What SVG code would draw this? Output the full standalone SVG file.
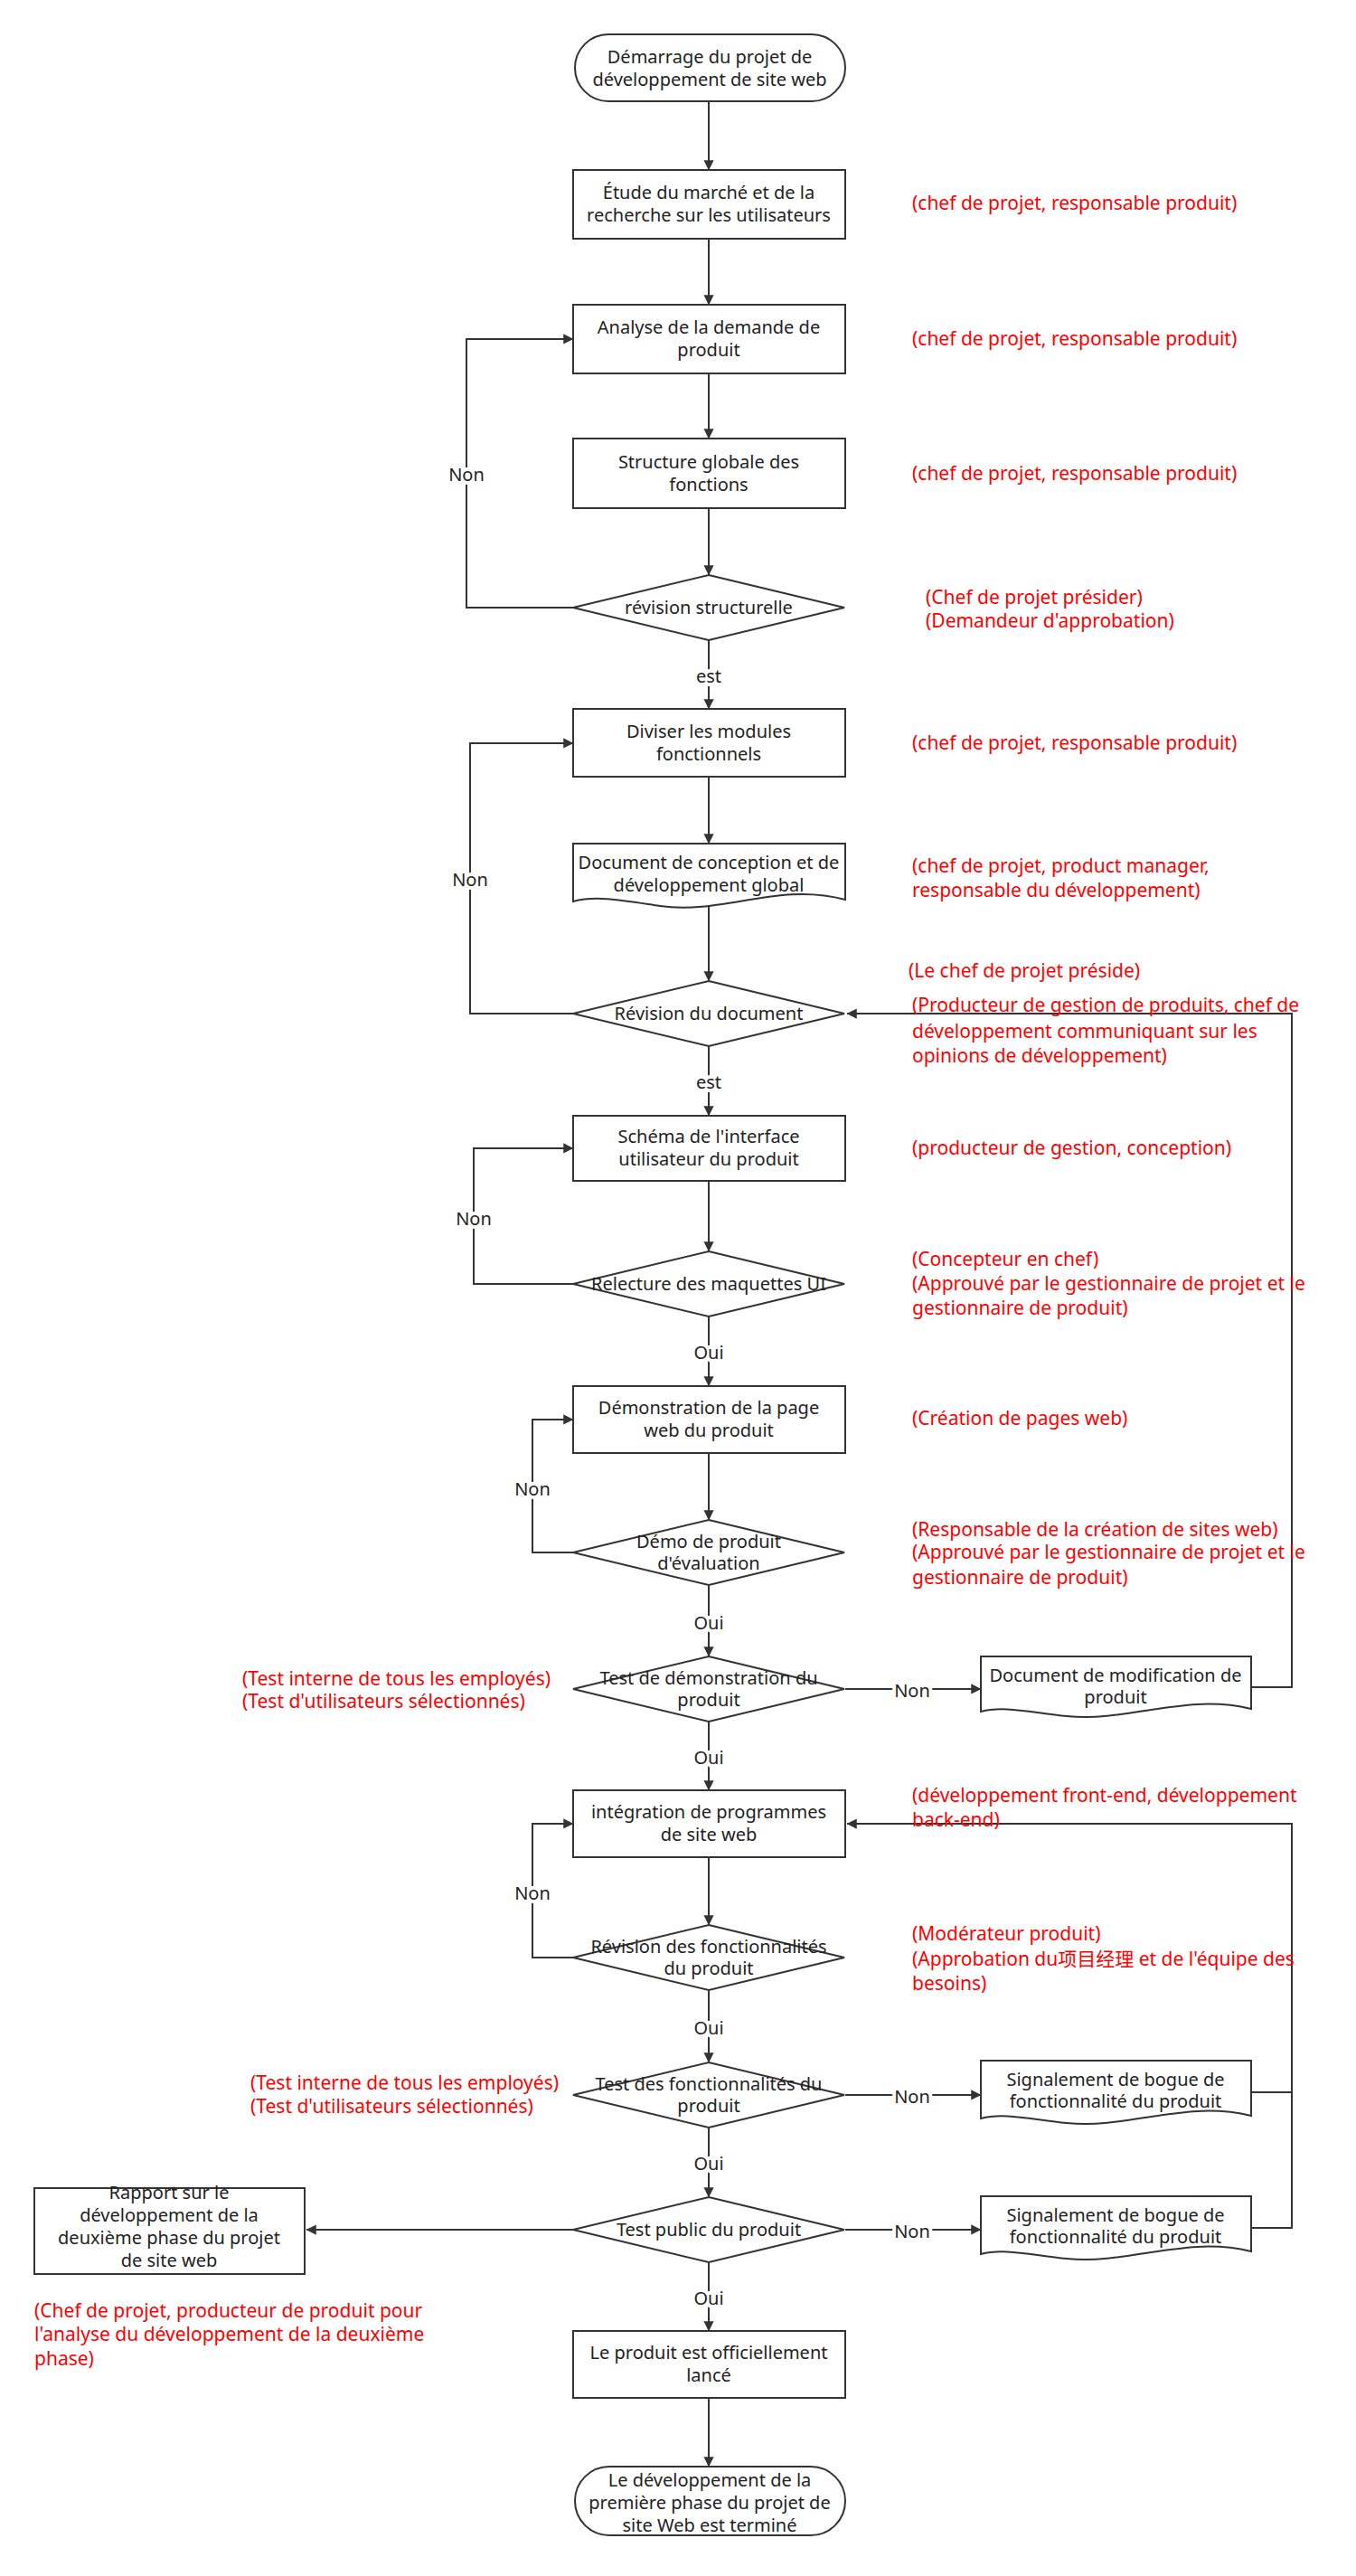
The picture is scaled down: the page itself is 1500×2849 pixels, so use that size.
<svg xmlns="http://www.w3.org/2000/svg" width="1500" height="2849" viewBox="0 0 1500 2849">
<style>
.n{fill:#fff;stroke:#333;stroke-width:2}
.t{font-family:"Noto Sans","Noto Sans CJK SC",sans-serif;font-size:20px;fill:#222;text-anchor:middle}
.r{font-family:"Noto Sans","Noto Sans CJK SC",sans-serif;font-size:21px;fill:#f00}
.c{fill:none;stroke:#333;stroke-width:2;marker-end:url(#a)}
.p{fill:none;stroke:#333;stroke-width:2}
.l{font-family:"Noto Sans",sans-serif;font-size:20px;fill:#222;text-anchor:middle;paint-order:stroke;stroke:#fff;stroke-width:8px}
</style>
<defs><marker id="a" viewBox="0 0 10 10" refX="9" refY="5" markerWidth="7" markerHeight="7" orient="auto" markerUnits="userSpaceOnUse" style="overflow:visible"><path d="M0,0L10,5L0,10z" fill="#333" transform="scale(1.6) translate(-4,-1.9)"/></marker></defs>
<rect width="1500" height="2849" fill="#fff"/>
<g id="connectors">
<path class="c" d="M784,112V188"/><path class="c" d="M784,264V337"/><path class="c" d="M784,413V485"/><path class="c" d="M784,562V636"/>
<path class="c" d="M784,708V784"/><path class="c" d="M784,859V933"/><path class="c" d="M784,1000V1085"/><path class="c" d="M784,1157V1234"/>
<path class="c" d="M784,1306V1384"/><path class="c" d="M784,1456V1533"/><path class="c" d="M784,1607V1681"/><path class="c" d="M784,1753V1832"/>
<path class="c" d="M784,1904V1980"/><path class="c" d="M784,2054V2129"/><path class="c" d="M784,2201V2281"/><path class="c" d="M784,2353V2430"/>
<path class="c" d="M784,2502V2578"/><path class="c" d="M784,2652V2728"/>
<path class="c" d="M634,672H516V375H634"/><path class="c" d="M634,1121H520V822H634"/><path class="c" d="M634,1420H524V1270H634"/>
<path class="c" d="M634,1717H589V1570H634"/><path class="c" d="M634,2165H589V2017H634"/>
<path class="c" d="M935,1868H1085"/><path class="c" d="M935,2317H1085"/><path class="c" d="M935,2466H1085"/><path class="c" d="M634,2466H339"/>
<path class="c" d="M1384,1866H1429V1121H937"/><path class="p" d="M1384,2314H1429"/><path class="c" d="M1384,2464H1429V2017H937"/>
<text class="l" x="516" y="532">Non</text><text class="l" x="520" y="980">Non</text><text class="l" x="524" y="1355">Non</text>
<text class="l" x="589" y="1654">Non</text><text class="l" x="589" y="2101">Non</text>
<text class="l" x="1009" y="1877">Non</text><text class="l" x="1009" y="2326">Non</text><text class="l" x="1009" y="2475">Non</text>
<text class="l" x="784" y="755">est</text><text class="l" x="784" y="1204">est</text>
<text class="l" x="784" y="1503">Oui</text><text class="l" x="784" y="1802">Oui</text><text class="l" x="784" y="1951">Oui</text>
<text class="l" x="784" y="2250">Oui</text><text class="l" x="784" y="2400">Oui</text><text class="l" x="784" y="2549">Oui</text>
</g>
<g id="n1"><rect class="n" x="636" y="38" width="299" height="74" rx="37"/><text class="t" x="785" y="70">Démarrage du projet de</text><text class="t" x="785" y="95">développement de site web</text></g>
<g id="n2"><rect class="n" x="634" y="188" width="301" height="76"/><text class="t" x="784" y="220">Étude du marché et de la</text><text class="t" x="784" y="245">recherche sur les utilisateurs</text></g>
<g id="n3"><rect class="n" x="634" y="337" width="301" height="76"/><text class="t" x="784" y="369">Analyse de la demande de</text><text class="t" x="784" y="394">produit</text></g>
<g id="n4"><rect class="n" x="634" y="485" width="301" height="77"/><text class="t" x="784" y="518">Structure globale des</text><text class="t" x="784" y="543">fonctions</text></g>
<g id="n5"><path class="n" d="M784,636L934,672L784,708L634,672z"/><text class="t" x="784" y="679">révision structurelle</text></g>
<g id="n6"><rect class="n" x="634" y="784" width="301" height="75"/><text class="t" x="784" y="816">Diviser les modules</text><text class="t" x="784" y="841">fonctionnels</text></g>
<g id="n7"><path class="n" d="M634,933H935V995C860,975 800,1012 730,1002C690,996 660,990 634,997z"/><text class="t" x="784" y="961">Document de conception et de</text><text class="t" x="784" y="986">développement global</text></g>
<g id="n8"><path class="n" d="M784,1085L934,1121L784,1157L634,1121z"/><text class="t" x="784" y="1128">Révision du document</text></g>
<g id="n9"><rect class="n" x="634" y="1234" width="301" height="72"/><text class="t" x="784" y="1264">Schéma de l'interface</text><text class="t" x="784" y="1289">utilisateur du produit</text></g>
<g id="n10"><path class="n" d="M784,1384L934,1420L784,1456L634,1420z"/><text class="t" x="784" y="1427">Relecture des maquettes UI</text></g>
<g id="n11"><rect class="n" x="634" y="1533" width="301" height="74"/><text class="t" x="784" y="1564">Démonstration de la page</text><text class="t" x="784" y="1589">web du produit</text></g>
<g id="n12"><path class="n" d="M784,1681L934,1717L784,1753L634,1717z"/><text class="t" x="784" y="1712">Démo de produit</text><text class="t" x="784" y="1736">d'évaluation</text></g>
<g id="n13"><path class="n" d="M784,1832L934,1868L784,1904L634,1868z"/><text class="t" x="784" y="1863">Test de démonstration du</text><text class="t" x="784" y="1887">produit</text></g>
<g id="n14"><path class="n" d="M1085,1832H1384V1890C1310,1872 1250,1905 1180,1898C1140,1894 1110,1886 1085,1893z"/><text class="t" x="1234" y="1860">Document de modification de</text><text class="t" x="1234" y="1884">produit</text></g>
<g id="n15"><rect class="n" x="634" y="1980" width="301" height="74"/><text class="t" x="784" y="2011">intégration de programmes</text><text class="t" x="784" y="2036">de site web</text></g>
<g id="n16"><path class="n" d="M784,2129L934,2165L784,2201L634,2165z"/><text class="t" x="784" y="2160">Révision des fonctionnalités</text><text class="t" x="784" y="2184">du produit</text></g>
<g id="n17"><path class="n" d="M784,2281L934,2317L784,2353L634,2317z"/><text class="t" x="784" y="2312">Test des fonctionnalités du</text><text class="t" x="784" y="2336">produit</text></g>
<g id="n18"><path class="n" d="M1085,2279H1384V2340C1310,2322 1250,2355 1180,2348C1140,2344 1110,2336 1085,2343z"/><text class="t" x="1234" y="2307">Signalement de bogue de</text><text class="t" x="1234" y="2331">fonctionnalité du produit</text></g>
<g id="n19"><path class="n" d="M784,2430L934,2466L784,2502L634,2466z"/><text class="t" x="784" y="2473">Test public du produit</text></g>
<g id="n20"><path class="n" d="M1085,2429H1384V2490C1310,2472 1250,2505 1180,2498C1140,2494 1110,2486 1085,2493z"/><text class="t" x="1234" y="2457">Signalement de bogue de</text><text class="t" x="1234" y="2481">fonctionnalité du produit</text></g>
<g id="n21"><rect class="n" x="38" y="2420" width="299" height="95"/><text class="t" x="187" y="2432">Rapport sur le</text><text class="t" x="187" y="2457">développement de la</text><text class="t" x="187" y="2482">deuxième phase du projet</text><text class="t" x="187" y="2507">de site web</text></g>
<g id="n22"><rect class="n" x="634" y="2578" width="301" height="74"/><text class="t" x="784" y="2609">Le produit est officiellement</text><text class="t" x="784" y="2634">lancé</text></g>
<g id="n23"><rect class="n" x="636" y="2728" width="299" height="76" rx="38"/><text class="t" x="785" y="2750">Le développement de la</text><text class="t" x="785" y="2775">première phase du projet de</text><text class="t" x="785" y="2800">site Web est terminé</text></g>
<g id="notes">
<text class="r" x="1009" y="232">(chef de projet, responsable produit)</text>
<text class="r" x="1009" y="382">(chef de projet, responsable produit)</text>
<text class="r" x="1009" y="531">(chef de projet, responsable produit)</text>
<text class="r" x="1024" y="668">(Chef de projet présider)</text>
<text class="r" x="1024" y="694">(Demandeur d'approbation)</text>
<text class="r" x="1009" y="829">(chef de projet, responsable produit)</text>
<text class="r" x="1009" y="965">(chef de projet, product manager,</text>
<text class="r" x="1009" y="992">responsable du développement)</text>
<text class="r" x="1005" y="1081">(Le chef de projet préside)</text>
<text class="r" x="1009" y="1119">(Producteur de gestion de produits, chef de</text>
<text class="r" x="1009" y="1148">développement communiquant sur les</text>
<text class="r" x="1009" y="1175">opinions de développement)</text>
<text class="r" x="1009" y="1277">(producteur de gestion, conception)</text>
<text class="r" x="1009" y="1400">(Concepteur en chef)</text>
<text class="r" x="1009" y="1427">(Approuvé par le gestionnaire de projet et le</text>
<text class="r" x="1009" y="1454">gestionnaire de produit)</text>
<text class="r" x="1009" y="1576">(Création de pages web)</text>
<text class="r" x="1009" y="1699">(Responsable de la création de sites web)</text>
<text class="r" x="1009" y="1724">(Approuvé par le gestionnaire de projet et le</text>
<text class="r" x="1009" y="1752">gestionnaire de produit)</text>
<text class="r" x="268" y="1864">(Test interne de tous les employés)</text>
<text class="r" x="268" y="1889">(Test d'utilisateurs sélectionnés)</text>
<text class="r" x="1009" y="1993">(développement front-end, développement</text>
<text class="r" x="1009" y="2020">back-end)</text>
<text class="r" x="1009" y="2146">(Modérateur produit)</text>
<text class="r" x="1009" y="2174">(Approbation du项目经理 et de l'équipe des</text>
<text class="r" x="1009" y="2201">besoins)</text>
<text class="r" x="277" y="2311">(Test interne de tous les employés)</text>
<text class="r" x="277" y="2337">(Test d'utilisateurs sélectionnés)</text>
<text class="r" x="38" y="2563">(Chef de projet, producteur de produit pour</text>
<text class="r" x="38" y="2589">l'analyse du développement de la deuxième</text>
<text class="r" x="38" y="2616">phase)</text>
</g>
</svg>
